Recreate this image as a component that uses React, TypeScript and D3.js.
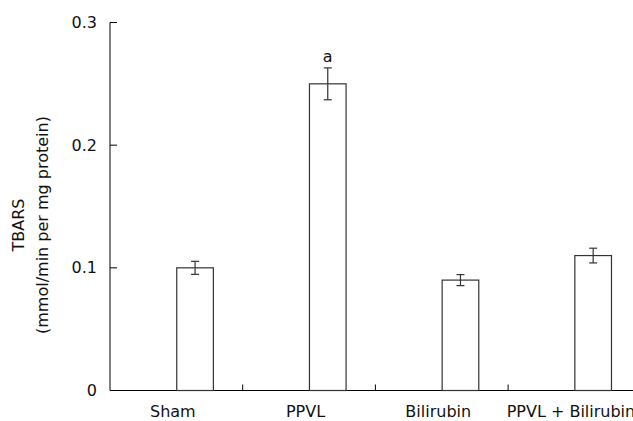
import React from 'react';
import * as d3 from 'd3';

const categories = ['Sham', 'PPVL', 'Bilirubin', 'PPVL + Bilirubin'];
const values = [0.1, 0.25, 0.09, 0.11];
const errors = [0.0053, 0.013, 0.0045, 0.006];
const marks = ['', 'a', '', ''];
const yTicks = [0, 0.1, 0.2, 0.3];

const width = 633;
const height = 421;
const font = '"DejaVu Sans", Verdana, sans-serif';
const fs = 16;

const App = () => {
  const x = d3.scaleBand<string>()
    .domain(categories)
    .range([110, 110 + 4 * 132.7])
    .paddingInner(0)
    .paddingOuter(0);

  const y = d3.scaleLinear().domain([0, 0.3]).range([390.5, 22.5]);

  const bw = x.bandwidth();
  const barW = bw * 0.276;
  const stroke = '#333';
  const fmt = (t: number) => (t === 0 ? '0' : d3.format('.1f')(t));

  return (
    <div style={{ position: 'fixed', left: 0, top: 0 }}>
      <svg width={width} height={height} style={{ display: 'block', background: '#fff' }}>
        {/* y axis */}
        <line x1={110} x2={110} y1={y(0.3)} y2={y(0)} stroke="#000" strokeWidth={1} />
        {yTicks.map((t) => (
          <g key={t}>
            <line x1={110} x2={117} y1={y(t)} y2={y(t)} stroke="#000" />
            <text x={97} y={y(t)} dy="0.35em" textAnchor="end" fontFamily={font} fontSize={fs} fill="#111">
              {fmt(t)}
            </text>
          </g>
        ))}

        {/* x axis */}
        <line x1={110} x2={width} y1={y(0)} y2={y(0)} stroke="#000" strokeWidth={1} />
        {categories.slice(1).map((c) => (
          <line key={c} x1={x(c)!} x2={x(c)!} y1={y(0)} y2={y(0) - 6} stroke="#000" />
        ))}

        {/* bars */}
        {categories.map((c, i) => {
          const cx = x(c)! + bw / 2;
          const bx = cx + 0.4;
          const mid = bx + barW / 2;
          const top = y(values[i] + errors[i]);
          const bot = y(values[i] - errors[i]);
          return (
            <g key={c}>
              <rect
                x={bx}
                y={y(values[i])}
                width={barW}
                height={y(0) - y(values[i])}
                fill="#fff"
                stroke={stroke}
                strokeWidth={1.2}
              />
              <line x1={mid} x2={mid} y1={top} y2={bot} stroke={stroke} strokeWidth={1.2} />
              <line x1={mid - 4} x2={mid + 4} y1={top} y2={top} stroke={stroke} strokeWidth={1.2} />
              <line x1={mid - 4} x2={mid + 4} y1={bot} y2={bot} stroke={stroke} strokeWidth={1.2} />
              {marks[i] && (
                <text x={mid} y={top - 6} textAnchor="middle" fontFamily={font} fontSize={fs} fill="#111">
                  {marks[i]}
                </text>
              )}
              <text x={cx - 3.5} y={417} textAnchor="middle" fontFamily={font} fontSize={fs} fill="#111">
                {c}
              </text>
            </g>
          );
        })}

        {/* y label */}
        <g transform="translate(0,225) rotate(-90)">
          <text x={0} y={24} textAnchor="middle" fontFamily={font} fontSize={fs} fill="#111">
            TBARS
          </text>
          <text x={0} y={48} textAnchor="middle" fontFamily={font} fontSize={fs} fill="#111">
            (mmol/min per mg protein)
          </text>
        </g>
      </svg>
    </div>
  );
};

export default App;
